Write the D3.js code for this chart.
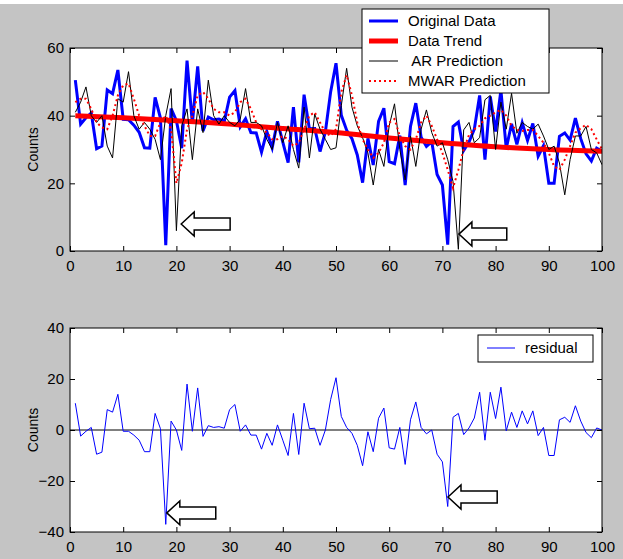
<!DOCTYPE html>
<html>
<head>
<meta charset="utf-8">
<script src="https://cdn.jsdelivr.net/npm/d3@7"></script>
<style>
  body { margin: 0; background: #fff; }
  svg { display: block; font-family: "Liberation Sans", Arial, sans-serif; }
</style>
</head>
<body>
<div id="chart"></div>
<script>
// data (x = 1..100)
const original = [50.5, 37.5, 39.4, 40.8, 30.2, 31, 47.6, 46.5, 53.5, 38.9,
  38.8, 37.2, 35.1, 30.5, 30.4, 45.4, 39.3, 1.7, 42.1, 38.5,
  30.4, 56.3, 37.7, 54.6, 35.5, 39.6, 38.8, 39, 38.3, 45.5,
  47.4, 36.7, 39.1, 35, 34.9, 29.2, 35.3, 30.5, 38.3, 32.2,
  26.1, 42.5, 26.2, 46.2, 36.1, 36.2, 29.4, 35.2, 47.1, 55.5,
  40.1, 35.7, 33.2, 28.4, 20.2, 33.3, 25.4, 38.3, 42.2, 26.4,
  25.8, 34.1, 19.5, 36.8, 43.7, 33.6, 30.9, 32.3, 22.6, 19.5,
  1.9, 36.8, 38.1, 29.7, 32.2, 36, 46, 27, 45.7, 35.3,
  47.5, 30.3, 37.6, 31.5, 37.9, 32.7, 37.7, 28, 31.1, 20,
  20, 33.9, 34.9, 32.8, 39.3, 33.2, 28.7, 26.6, 30.4, 29.5];

const arPred = [41, 44, 48.5, 40, 38, 40, 31, 27.5, 45, 44,
  53, 40, 36, 38, 36, 33, 27, 40, 48, 6,
  37, 42, 27, 42, 35, 50.5, 40, 37.5, 40, 38,
  37, 39, 48, 38, 38, 37, 33, 30, 38, 32,
  37, 30, 24.5, 42.5, 27.5, 40.5, 36, 33, 30, 30.5,
  43, 54, 42.5, 37, 33.5, 29, 19.5, 30, 25, 37,
  43.5, 30, 21, 34, 25, 36, 41.7, 35, 31, 32,
  27, 20.5, 0.5, 35.8, 38, 32, 33.5, 44.7, 46, 30,
  44, 36, 46.6, 34.8, 38, 36.8, 36, 37.5, 34, 30,
  31, 26, 16.6, 27, 34, 34, 36.8, 30, 29, 25.5];

const mwarPred = [44, 45, 45, 42, 38, 36.5, 36, 40, 46, 49,
  49.5, 45, 40, 37, 34, 34, 38, 40, 36, 20,
  26, 36, 40, 46, 47, 45, 42, 41, 41, 40,
  41, 44, 45, 42, 38, 36, 35, 33, 33, 34,
  33, 31, 32, 36, 40, 41, 38, 35, 34, 36,
  47, 52, 46, 38, 33, 30, 27.5, 29, 32, 38,
  39, 34, 31, 30, 33, 38, 40, 37, 33, 29,
  24, 18.6, 24, 30, 34.3, 36, 37, 39.2, 40, 41,
  41.7, 40, 37, 35.8, 35.5, 35.8, 35.8, 34, 32, 29,
  25, 24, 27, 31, 35, 36.3, 37.3, 36, 33, 30];

// trend knots
const trendX = [1, 10, 20, 30, 40, 50, 60, 70, 80, 90, 100];
const trendY = [40, 39.4, 38.5, 37.5, 36.2, 35, 33.4, 32, 30.8, 30, 29.5];

const residual = [10.5, -2.4, -0.5, 1, -9.5, -8.7, 8, 7, 14, -0.5,
  -0.5, -2, -4, -8.5, -8.5, 6.5, 0.5, -37, 3.5, 0,
  -8, 18, -0.5, 16.5, -2.5, 1.7, 1, 1.3, 0.7, 8,
  10, -0.5, 2, -2, -2, -7.5, -1.3, -6, 2, -4,
  -10, 6.5, -9.6, 10.5, 0.5, 0.7, -6, 0, 12, 20.5,
  5.3, 1, -1.3, -6, -14, -0.7, -8.5, 4.6, 8.6, -7,
  -7.5, 1, -13.5, 4, 11, 1, -1.5, 0, -9.5, -12.5,
  -30, 5, 6.5, -1.8, 0.8, 4.7, 14.8, -4, 14.8, 4.5,
  16.8, -0.3, 7, 1, 7.5, 2.4, 7.5, -2.2, 1, -10,
  -10, 4, 5, 3, 9.5, 3.5, -1, -3, 0.8, 0];

const xTicks = [0, 10, 20, 30, 40, 50, 60, 70, 80, 90, 100];
const topYTicks = [0, 20, 40, 60];
const botYTicks = [-40, -20, 0, 20, 40];
const topLegend = ['Original Data', 'Data Trend', ' AR Prediction', 'MWAR Prediction'];
const botLegend = ['residual'];
// arrows: [tip x, tip y, tail x] in data units
const topArrows = [[20.9, 8, 30.1], [73.1, 5, 82.1]];
const botArrows = [[18.2, -32.5, 27.4], [71.05, -26.3, 80.3]];

const W = 623, H = 559;
const FS = 15;
const svg = d3.select('#chart').append('svg').attr('width', W).attr('height', H);

svg.append('rect').attr('x', 0).attr('y', 4).attr('width', W).attr('height', H - 4)
  .attr('fill', '#c4c4c4');

const xs = d3.range(1, 101);

const xTop = d3.scaleLinear().domain([0, 100]).range([70, 602]);
const yTop = d3.scaleLinear().domain([0, 60]).range([251, 48]);
const yBot = d3.scaleLinear().domain([-40, 40]).range([532, 328]);

function drawAxes(y) {
  const [y0, y1] = y.range();
  svg.append('rect').attr('x', 70).attr('y', y1).attr('width', 532).attr('height', y0 - y1)
    .attr('fill', '#fff');
}

function drawFrame(y, yTicks) {
  const [y0, y1] = y.range();
  const g = svg.append('g');
  const tl = 5;
  g.append('g').attr('transform', `translate(0,${y0})`)
    .call(d3.axisBottom(xTop).tickValues(xTicks).tickSize(-tl).tickPadding(9))
    .call(a => a.select('.domain').remove());
  g.append('g').attr('transform', `translate(0,${y1})`)
    .call(d3.axisTop(xTop).tickValues(xTicks).tickSize(-tl).tickFormat(''))
    .call(a => a.select('.domain').remove());
  g.append('g').attr('transform', 'translate(70,0)')
    .call(d3.axisLeft(y).tickValues(yTicks).tickSize(-tl).tickPadding(6))
    .call(a => a.select('.domain').remove());
  g.append('g').attr('transform', 'translate(602,0)')
    .call(d3.axisRight(y).tickValues(yTicks).tickSize(-tl).tickFormat(''))
    .call(a => a.select('.domain').remove());
  g.selectAll('.tick text').attr('font-size', FS).attr('fill', '#000')
    .attr('font-family', '"Liberation Sans", Arial, sans-serif');
  g.selectAll('.tick line').attr('stroke', '#000');
  g.append('rect').attr('x', 70).attr('y', y1).attr('width', 532).attr('height', y0 - y1)
    .attr('fill', 'none').attr('stroke', '#000').attr('stroke-width', 1);
  svg.append('text')
    .attr('transform', `translate(38,${(y0 + y1) / 2}) rotate(-90)`)
    .attr('text-anchor', 'middle').attr('font-size', 14).text('Counts');
}

function arrow(x, y, a) {
  const tx = x(a[0]), ty = y(a[1]), rx = x(a[2]);
  const hl = 13, hh = 12, bh = 6;
  const p = [[tx, ty], [tx + hl, ty - hh], [tx + hl, ty - bh], [rx, ty - bh],
    [rx, ty + bh], [tx + hl, ty + bh], [tx + hl, ty + hh]];
  svg.append('path').attr('d', d3.line()(p) + 'Z')
    .attr('fill', '#fff').attr('stroke', '#000').attr('stroke-width', 1.5);
}

// ---- top panel
drawAxes(yTop);
const clipTop = svg.append('clipPath').attr('id', 'clipTop');
clipTop.append('rect').attr('x', 70).attr('y', 48).attr('width', 532).attr('height', 203);
const gTop = svg.append('g').attr('clip-path', 'url(#clipTop)');

const line = (y) => d3.line().x((d, i) => xTop(xs[i])).y(d => y(d));

gTop.append('path').datum(original).attr('d', line(yTop))
  .attr('fill', 'none').attr('stroke', '#0000ff').attr('stroke-width', 3);
gTop.append('path').datum(trendY)
  .attr('d', d3.line().x((d, i) => xTop(trendX[i])).y(d => yTop(d)).curve(d3.curveMonotoneX))
  .attr('fill', 'none').attr('stroke', '#ff0000').attr('stroke-width', 5);
gTop.append('path').datum(arPred).attr('d', line(yTop))
  .attr('fill', 'none').attr('stroke', '#000').attr('stroke-width', 1);
gTop.append('path').datum(mwarPred).attr('d', line(yTop))
  .attr('fill', 'none').attr('stroke', '#ff0000').attr('stroke-width', 2)
  .attr('stroke-dasharray', '2,3');

drawFrame(yTop, topYTicks);
topArrows.forEach(a => arrow(xTop, yTop, a));

// legend top
const lg = svg.append('g');
lg.append('rect').attr('x', 362).attr('y', 9).attr('width', 187).attr('height', 84)
  .attr('fill', '#fff').attr('stroke', '#000');
const legStyles = [
  { c: '#0000ff', w: 3, d: null },
  { c: '#ff0000', w: 5, d: null },
  { c: '#000', w: 1, d: null },
  { c: '#ff0000', w: 2, d: '2,3' }
];
topLegend.forEach((t, i) => {
  const cy = 21 + i * 20;
  lg.append('line').attr('x1', 369).attr('x2', 398).attr('y1', cy).attr('y2', cy)
    .attr('stroke', legStyles[i].c).attr('stroke-width', legStyles[i].w)
    .attr('stroke-dasharray', legStyles[i].d);
  lg.append('text').attr('x', 408).attr('y', cy).attr('dy', '0.35em')
    .attr('font-size', FS).attr('xml:space', 'preserve').text(t);
});

// ---- bottom panel
drawAxes(yBot);
const gBot = svg.append('g');
gBot.append('line').attr('x1', xTop(0)).attr('x2', xTop(100))
  .attr('y1', yBot(0)).attr('y2', yBot(0)).attr('stroke', '#000').attr('stroke-width', 1);
gBot.append('path').datum(residual).attr('d', line(yBot))
  .attr('fill', 'none').attr('stroke', '#0000ff').attr('stroke-width', 1);

drawFrame(yBot, botYTicks);
botArrows.forEach(a => arrow(xTop, yBot, a));

const lg2 = svg.append('g');
lg2.append('rect').attr('x', 478).attr('y', 335).attr('width', 115).attr('height', 27)
  .attr('fill', '#fff').attr('stroke', '#000');
botLegend.forEach(t => {
  lg2.append('line').attr('x1', 487).attr('x2', 515).attr('y1', 348).attr('y2', 348)
    .attr('stroke', '#0000ff').attr('stroke-width', 1);
  lg2.append('text').attr('x', 525).attr('y', 348).attr('dy', '0.35em')
    .attr('font-size', FS).text(t);
});
</script>
</body>
</html>
